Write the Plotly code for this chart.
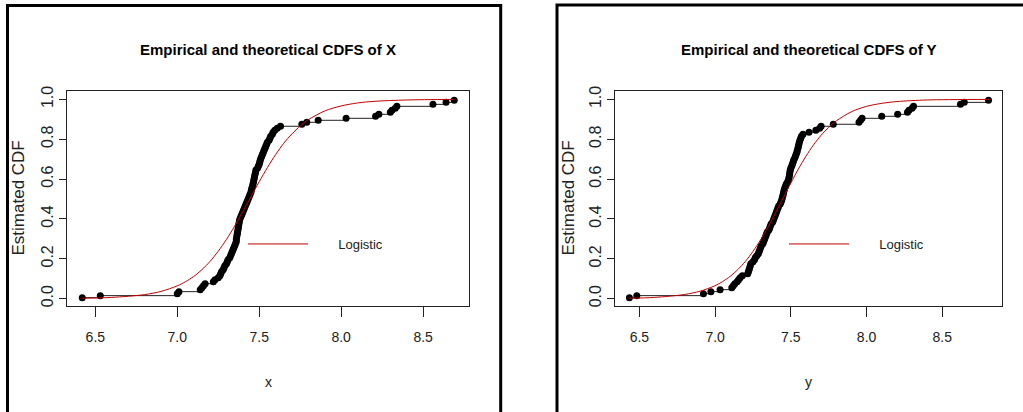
import plotly.graph_objects as go

# ---------------- data ----------------
# sorted sample X (100 observations)
sample_x = [
    6.42, 6.53, 7.00, 7.01, 7.14, 7.15, 7.16, 7.17, 7.22, 7.23,
    7.25, 7.26, 7.265, 7.27, 7.28, 7.285, 7.29, 7.30, 7.305, 7.31,
    7.32, 7.325, 7.33, 7.335, 7.34, 7.345, 7.35, 7.355, 7.36, 7.36,
    7.362, 7.364, 7.366, 7.368, 7.37, 7.372, 7.374, 7.376, 7.378, 7.38,
    7.385, 7.39, 7.395, 7.40, 7.405, 7.41, 7.415, 7.42, 7.425, 7.43,
    7.435, 7.44, 7.445, 7.45, 7.452, 7.455, 7.46, 7.462, 7.465, 7.467,
    7.47, 7.472, 7.475, 7.478, 7.48, 7.49, 7.495, 7.50, 7.503, 7.506,
    7.51, 7.515, 7.52, 7.525, 7.53, 7.535, 7.54, 7.545, 7.55, 7.56,
    7.565, 7.57, 7.58, 7.585, 7.595, 7.61, 7.63, 7.76, 7.79, 7.86,
    8.03, 8.21, 8.23, 8.30, 8.31, 8.33, 8.34, 8.56, 8.64, 8.69,
]
# sorted sample Y (100 observations)
sample_y = [
    6.434, 6.483, 6.923, 6.972, 7.033, 7.11, 7.12, 7.13, 7.145, 7.155,
    7.165, 7.18, 7.215, 7.22, 7.224, 7.228, 7.232, 7.236, 7.25, 7.26,
    7.265, 7.275, 7.285, 7.29, 7.295, 7.30, 7.305, 7.315, 7.32, 7.325,
    7.33, 7.335, 7.34, 7.345, 7.355, 7.36, 7.365, 7.37, 7.38, 7.385,
    7.39, 7.395, 7.40, 7.405, 7.41, 7.415, 7.42, 7.43, 7.435, 7.44,
    7.443, 7.447, 7.45, 7.453, 7.456, 7.46, 7.465, 7.47, 7.478, 7.484,
    7.487, 7.49, 7.492, 7.494, 7.496, 7.50, 7.506, 7.51, 7.515, 7.518,
    7.525, 7.53, 7.535, 7.54, 7.543, 7.547, 7.55, 7.553, 7.556, 7.56,
    7.565, 7.57, 7.58, 7.62, 7.665, 7.69, 7.70, 7.78, 7.95, 7.96,
    7.97, 8.10, 8.205, 8.27, 8.28, 8.30, 8.31, 8.62, 8.645, 8.805,
]

# fitted logistic CDF
logis_x_grid = [6.42, 6.6, 6.8, 6.9, 7.0, 7.05, 7.1, 7.15, 7.2, 7.25, 7.3, 7.35,
                7.4, 7.45, 7.5, 7.55, 7.6, 7.65, 7.7, 7.75, 7.8, 7.9, 8.0, 8.1,
                8.2, 8.4, 8.69]
logis_x_cdf = [0.002, 0.006, 0.020, 0.036, 0.064, 0.085, 0.111, 0.145, 0.187,
               0.238, 0.297, 0.364, 0.437, 0.512, 0.587, 0.658, 0.723, 0.780,
               0.827, 0.866, 0.898, 0.942, 0.967, 0.982, 0.990, 0.997, 0.9997]
logis_y_grid = [6.43, 6.6, 6.8, 6.9, 7.0, 7.05, 7.1, 7.15, 7.2, 7.25, 7.3, 7.35,
                7.4, 7.45, 7.5, 7.55, 7.6, 7.65, 7.7, 7.75, 7.8, 7.9, 8.0, 8.1,
                8.2, 8.4, 8.81]
logis_y_cdf = [0.002, 0.006, 0.021, 0.037, 0.065, 0.086, 0.112, 0.146, 0.187,
               0.237, 0.295, 0.360, 0.432, 0.506, 0.580, 0.651, 0.715, 0.772,
               0.820, 0.860, 0.892, 0.938, 0.965, 0.980, 0.989, 0.997, 0.9998]

x_tick_vals = [6.5, 7.0, 7.5, 8.0, 8.5]
x_tick_text = ["6.5", "7.0", "7.5", "8.0", "8.5"]
y_tick_vals = [0.0, 0.2, 0.4, 0.6, 0.8, 1.0]
y_tick_text = ["0.0", "0.2", "0.4", "0.6", "0.8", "1.0"]

titles = ["Empirical and theoretical CDFS of X", "Empirical and theoretical CDFS of Y"]
x_titles = ["x", "y"]
y_title = "Estimated CDF"
fit_name = "Logistic"


def ecdf_levels(s):
    n = len(s)
    return [(i + 0.5) / n for i in range(n)]


# ---------------- styling ----------------
W, H = 1023, 412
FONT = "Liberation Sans, Arial, sans-serif"
RED = "#c00000"

# plot areas in pixels (left, right, top, bottom)
areas = [(67, 469, 91, 306), (615.3, 1002.3, 91, 306)]
x_ranges = [[6.327, 8.78], [6.341, 8.896]]
y_range = [-0.037, 1.042]

fig = go.Figure()

samples = [sample_x, sample_y]
fits = [(logis_x_grid, logis_x_cdf), (logis_y_grid, logis_y_cdf)]

for k in range(2):
    xa = "x" if k == 0 else "x2"
    ya = "y" if k == 0 else "y2"
    lg = "legend" if k == 0 else "legend2"
    s = samples[k]
    fig.add_trace(go.Scatter(
        x=s, y=ecdf_levels(s), mode="lines+markers",
        line=dict(color="#222", width=1, shape="hv"),
        marker=dict(color="black", size=7, symbol="circle"),
        xaxis=xa, yaxis=ya, showlegend=False, hoverinfo="skip",
    ))
    gx, gy = fits[k]
    fig.add_trace(go.Scatter(
        x=gx, y=gy, mode="lines", name="\u00a0" * 7 + fit_name,
        line=dict(color=RED, width=1, shape="spline", smoothing=0.8),
        xaxis=xa, yaxis=ya, showlegend=True, legend=lg,
    ))

layout = dict(
    width=W, height=H,
    margin=dict(l=0, r=0, t=0, b=0),
    paper_bgcolor="white", plot_bgcolor="white",
    showlegend=True,
)

annotations = []
shapes = []
for k in range(2):
    l, r, t, b = areas[k]
    sfx = "" if k == 0 else "2"
    xd = [l / W, r / W]
    yd = [1 - b / H, 1 - t / H]
    layout["xaxis" + sfx] = dict(
        domain=xd, range=x_ranges[k], anchor="y" + sfx,
        tickvals=x_tick_vals, ticktext=x_tick_text,
        ticks="outside", ticklen=10, tickwidth=1, tickcolor="#222",
        showline=True, mirror=True, linecolor="#222", linewidth=1.2,
        showgrid=False, zeroline=False,
        tickfont=dict(family=FONT, size=14, color="#222"),
        ticklabelstandoff=8, automargin=False,
    )
    layout["yaxis" + sfx] = dict(
        domain=yd, range=y_range, anchor="x" + sfx,
        tickvals=y_tick_vals, ticktext=y_tick_text, tickangle=-90,
        ticks="outside", ticklen=7, tickwidth=1, tickcolor="#222",
        showline=True, mirror=True, linecolor="#222", linewidth=1.2,
        showgrid=False, zeroline=False,
        tickfont=dict(family=FONT, size=16, color="#222"),
        ticklabelstandoff=0, automargin=False,
    )
    cx = (l + r) / 2 / W
    annotations.append(dict(
        text="<b>" + titles[k] + "</b>", xref="paper", yref="paper",
        x=cx, y=1 - 50 / H, xanchor="center", yanchor="middle",
        showarrow=False, font=dict(family=FONT, size=15, color="black"),
    ))
    annotations.append(dict(
        text=x_titles[k], xref="paper", yref="paper",
        x=cx, y=1 - 382 / H, xanchor="center", yanchor="middle",
        showarrow=False, font=dict(family=FONT, size=14, color="#222"),
    ))
    ylx = 17.5 if k == 0 else 567.5
    annotations.append(dict(
        text=y_title, xref="paper", yref="paper", textangle=-90,
        x=ylx / W, y=1 - 198 / H, xanchor="center", yanchor="middle",
        showarrow=False, font=dict(family=FONT, size=17, color="#222"),
    ))
    lx = 247 if k == 0 else 788
    layout["legend" + sfx] = dict(
        x=(lx - 4) / W, y=1 - 244 / H, xanchor="left", yanchor="middle",
        bgcolor="rgba(0,0,0,0)", borderwidth=0, itemwidth=60,
        font=dict(family=FONT, size=13, color="#222"),
    )
    # outer panel frames
    fx0, fx1 = (7.5, 500.7) if k == 0 else (557, 1030)
    fy0 = 5.5 if k == 0 else 5
    shapes.append(dict(
        type="rect", xref="paper", yref="paper",
        x0=fx0 / W, x1=fx1 / W, y0=1 - fy0 / H, y1=-0.05,
        line=dict(color="black", width=3), fillcolor="rgba(0,0,0,0)",
    ))

layout["annotations"] = annotations
layout["shapes"] = shapes
fig.update_layout(**layout)
fig.write_html(
    "out.html",
    config={"displayModeBar": False},
    post_script="document.body.style.margin='0';document.body.style.overflow='hidden';",
)
